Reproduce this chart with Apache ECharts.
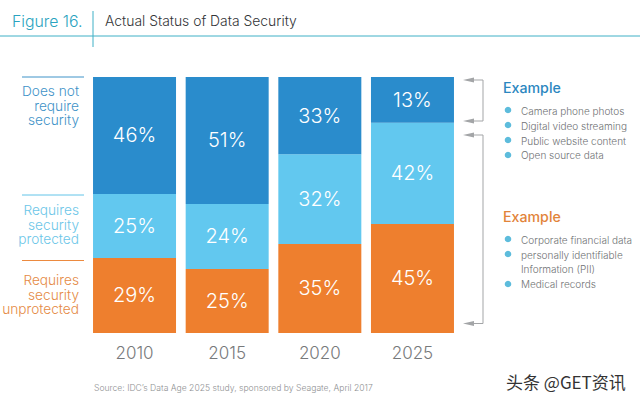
<!DOCTYPE html>
<html><head><meta charset="utf-8">
<style>html,body{margin:0;padding:0;background:#fff}#c{width:640px;height:400px}</style>
<script src="https://cdn.jsdelivr.net/npm/echarts@6/dist/echarts.min.js"></script></head>
<body><div id="c"></div>
<script>
const years = ['2010','2015','2020','2025'];
// Segment heights (they do not all agree with the printed percentages).
const unprotectedHeights = [29.3,25,34.8,42.6];
const protectedHeights = [25,25.4,35,39.5];
const noSecurityHeights = [45.7,49.6,30.2,17.9];
// Percentages as printed on the bars.
const unprotectedLabels = [29,25,35,45];
const protectedLabels = [25,24,32,42];
const noSecurityLabels = [46,51,33,13];
const FONT = 'Inter';
const chart = echarts.init(document.getElementById('c'),null,{renderer:'svg'});
function txt(x,y,text,size,fill,align,extra){return {type:'text',silent:true,style:Object.assign({x,y,text,fontFamily:FONT,fontWeight:300,fontSize:size,fill,textAlign:align||'left',textVerticalAlign:'middle'},extra||{})};}
function line(x1,y1,x2,y2,stroke,w){return {type:'line',silent:true,shape:{x1,y1,x2,y2},style:{stroke,lineWidth:w||1}};}
function arrow(xTip,y){return {type:'polygon',silent:true,shape:{points:[[xTip,y],[xTip+11,y-2.5],[xTip+11,y+2.5]]},style:{fill:'#a3a5a7'}};}
function dot(x,y){return {type:'circle',silent:true,shape:{cx:x,cy:y,r:3.3},style:{fill:'#5dbcdc'}};}
const g2='#6f7274';
const graphics=[
 txt(12,21,'Figure 16.',15.8,'#2aa3c0'),
 txt(105,21,'Actual Status of Data Security',13.9,'#333538'),
 line(0,36,640,36,'#3fb0c6',1),
 line(93,11,93,47,'#3fb0c6',1),
 line(22,77,84,77,'#3f93c8',1),
 line(22,195,84,195,'#62c4e8',1),
 line(22,260.5,84,260.5,'#ec8a3f',1),
 txt(79,105.5,'Does not\nrequire\nsecurity',13.7,'#3f93c8','right',{lineHeight:14.6}),
 txt(79,224.5,'Requires\nsecurity\nprotected',13.7,'#6cc6e8','right',{lineHeight:14.6}),
 txt(79,294.5,'Requires\nsecurity\nunprotected',13.7,'#e58a45','right',{lineHeight:14.6}),
 {type:'polyline',silent:true,shape:{points:[[470,80],[483,80],[483,121],[470,121]]},style:{stroke:'#a3a5a7',lineWidth:1,fill:'none'}},
 arrow(463,80),arrow(463,121),
 {type:'polyline',silent:true,shape:{points:[[470,135],[483,135],[483,323.5],[470,323.5]]},style:{stroke:'#a3a5a7',lineWidth:1,fill:'none'}},
 arrow(463,135),arrow(463,323.5),
 txt(503,87.5,'Example',14.2,'#2b87c0','left',{fontWeight:500}),
 dot(508,110),txt(521,111,'Camera phone photos',10,g2),
 dot(508,125),txt(521,126,'Digital video streaming',10,g2),
 dot(508,140),txt(521,141,'Public website content',10,g2),
 dot(508,155),txt(521,155,'Open source data',10,g2),
 txt(503,216.5,'Example',14.2,'#e2843a','left',{fontWeight:500}),
 dot(508,239),txt(521,240,'Corporate financial data',10,g2),
 dot(508,254),txt(521,262,'personally identifiable\nInformation (PII)',10,g2,'left',{lineHeight:14.5}),
 dot(508,284),txt(521,284,'Medical records',10,g2),
 txt(94,388,'Source: IDC\u2019s Data Age 2025 study, sponsored by Seagate, April 2017',8.6,'#8f9193'),
 txt(506,381,'头条 @GET资讯',17,'#333','left',{fontFamily:'Noto Sans CJK SC',fontWeight:400})
];
function series(name,heights,labels,color){return {name,type:'bar',stack:'a',data:heights,barWidth:83,itemStyle:{color},
 label:{show:true,position:'inside',formatter:p=>labels[p.dataIndex]+'%',color:'#fff',fontFamily:FONT,fontWeight:300,fontSize:20}};}
chart.setOption({
 animation:false,backgroundColor:'#fff',
 grid:{left:88.2,top:77,width:370.6,height:256},
 xAxis:{type:'category',data:years,axisLine:{show:false},axisTick:{show:false},
  axisLabel:{color:'#77797b',fontFamily:FONT,fontWeight:300,fontSize:17,margin:11}},
 yAxis:{type:'value',min:0,max:100,show:false},
 series:[series('Requires security unprotected',unprotectedHeights,unprotectedLabels,'#ee7f2e'),
  series('Requires security protected',protectedHeights,protectedLabels,'#62c8ef'),
  series('Does not require security',noSecurityHeights,noSecurityLabels,'#2a8ccc')],
 graphic:graphics
});
</script></body></html>
